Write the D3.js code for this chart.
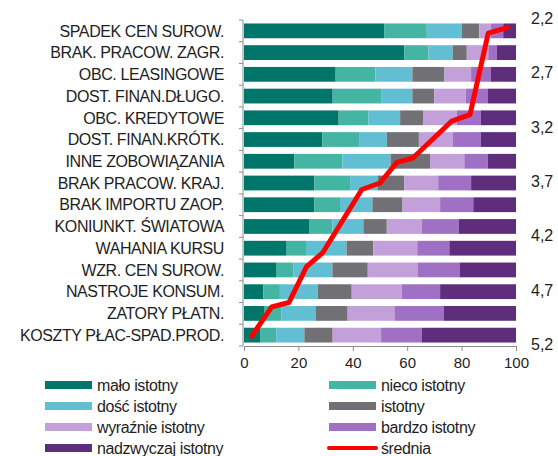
<!DOCTYPE html>
<html>
<head>
<meta charset="utf-8">
<title>Czynniki</title>
<script src="https://cdn.jsdelivr.net/npm/d3@7/dist/d3.min.js"></script>
<style>
    body { margin: 0; background: #fff; }
    svg text { font-family: Arial, "Liberation Sans", sans-serif; fill: #1e1e1e; }
</style>
</head>
<body>
<svg id="chart"></svg>
<script>
    const categories = ["SPADEK CEN SUROW.", "BRAK. PRACOW. ZAGR.", "OBC. LEASINGOWE", "DOST. FINAN.DŁUGO.",
        "OBC. KREDYTOWE", "DOST. FINAN.KRÓTK.", "INNE ZOBOWIĄZANIA", "BRAK PRACOW. KRAJ.",
        "BRAK IMPORTU ZAOP.", "KONIUNKT. ŚWIATOWA", "WAHANIA KURSU", "WZR. CEN SUROW.",
        "NASTROJE KONSUM.", "ZATORY PŁATN.", "KOSZTY PŁAC-SPAD.PROD."];

    const seriesNames = ["mało istotny", "nieco istotny", "dość istotny", "istotny",
        "wyraźnie istotny", "bardzo istotny", "nadzwyczaj istotny"];

    const malo       = [51.5, 58.9, 33.7, 32.6, 34.8, 28.8, 18.5, 25.9, 25.9, 23.9, 15.7, 12.0, 7.1, 7.6, 6.1];
    const nieco      = [15.7, 8.9, 14.6, 17.8, 10.9, 13.5, 17.7, 13.1, 9.4, 8.6, 7.1, 6.1, 6.1, 6.2, 5.9];
    const dosc       = [12.8, 8.9, 13.6, 11.5, 11.7, 10.2, 17.7, 10.1, 11.9, 11.4, 14.9, 14.4, 13.9, 12.5, 10.2];
    const istotny    = [6.5, 5.2, 11.8, 8.0, 8.4, 11.8, 14.5, 9.8, 11.1, 8.6, 9.8, 13.0, 12.5, 11.8, 10.4];
    const wyraznie   = [4.2, 7.9, 9.8, 11.6, 12.4, 12.4, 12.6, 12.5, 13.8, 12.8, 16.2, 18.3, 18.4, 17.2, 17.8];
    const bardzo     = [4.6, 3.1, 7.3, 8.1, 8.8, 10.3, 8.6, 12.1, 12.2, 13.7, 11.8, 15.6, 14.1, 18.2, 14.9];
    const nadzwyczaj = [4.7, 7.1, 9.2, 10.4, 13.0, 13.0, 10.4, 16.5, 15.7, 21.0, 24.5, 20.6, 27.9, 26.5, 34.7];

    // średnia: x on the 0-100 axis, y on the right axis (2,2 at top)
    const meanX = [96.8, 89.8, 83.1, 76.4, 62.1, 56.2, 50.0, 43.3, 29.0, 23.0, 16.5, 10.2, 2.8];
    const meanY = [2.27, 2.32, 3.07, 3.13, 3.47, 3.51, 3.70, 3.76, 4.34, 4.47, 4.80, 4.84, 5.11];

    const xTicks = [0, 20, 40, 60, 80, 100];
    const rightTicks = [2.2, 2.7, 3.2, 3.7, 4.2, 4.7, 5.2];

    const colors = ["#00766a", "#45b5a3", "#62bfd3", "#717075", "#c4a0da", "#a070c4", "#5e2d7c"];
    const lineColor = "#ff0000";

    const width = 558, height = 456;
    const plotLeft = 244, plotRight = 516, plotTop = 20, plotBottom = 346;

    const svg = d3.select("#chart").attr("width", width).attr("height", height);

    const x = d3.scaleLinear().domain([0, 100]).range([plotLeft, plotRight]);
    const y = d3.scaleBand().domain(categories).range([plotTop, plotBottom]).paddingInner(0.32).paddingOuter(0.16);
    const y2 = d3.scaleLinear().domain([2.2, 5.2]).range([plotTop, plotBottom]);

    const rows = categories.map(function (c, i) {
        const v = [malo[i], nieco[i], dosc[i], istotny[i], wyraznie[i], bardzo[i], nadzwyczaj[i]];
        const o = { cat: c };
        seriesNames.forEach(function (s, j) { o[s] = v[j]; });
        return o;
    });
    const stacked = d3.stack().keys(seriesNames)(rows);

    svg.append("g").selectAll("g")
        .data(stacked)
        .enter().append("g")
        .attr("fill", function (d, i) { return colors[i]; })
        .selectAll("rect")
        .data(function (d) { return d; })
        .enter().append("rect")
        .attr("x", function (d) { return x(d[0]); })
        .attr("width", function (d) { return x(d[1]) - x(d[0]); })
        .attr("y", function (d) { return y(d.data.cat); })
        .attr("height", y.bandwidth());

    // category axis, ticks between the categories
    const yAxis = svg.append("g").attr("transform", "translate(" + (plotLeft - 1) + ",0)");
    yAxis.append("line").attr("y1", plotTop).attr("y2", plotBottom).attr("stroke", "#8c8c8c");
    const bounds = categories.map(function (c) { return y(c) - y.step() * y.paddingInner() / 2; }).concat([plotBottom]);
    yAxis.selectAll("line.t").data(bounds).enter().append("line").attr("class", "t")
        .attr("x1", -4).attr("x2", 0)
        .attr("y1", function (d) { return d; }).attr("y2", function (d) { return d; })
        .attr("stroke", "#8c8c8c");
    yAxis.selectAll("text").data(categories).enter().append("text")
        .attr("x", -19)
        .attr("y", function (d) { return y(d) + y.bandwidth() / 2; })
        .attr("dy", "0.36em")
        .attr("text-anchor", "end")
        .attr("font-size", 16)
        .attr("letter-spacing", -0.4)
        .text(function (d) { return d; });

    // value axis
    const xAxis = svg.append("g").attr("transform", "translate(0," + plotBottom + ")")
        .call(d3.axisBottom(x).tickValues(xTicks).tickSize(5).tickPadding(6));
    xAxis.select(".domain").attr("stroke", "#8c8c8c");
    xAxis.selectAll(".tick line").attr("stroke", "#8c8c8c");
    xAxis.selectAll("text").attr("font-size", 15).style("font-family", "Arial, 'Liberation Sans', sans-serif").attr("fill", "#1e1e1e");

    // right axis labels only
    svg.append("g").selectAll("text").data(rightTicks).enter().append("text")
        .attr("x", 531)
        .attr("y", function (d) { return y2(d); })
        .attr("dy", "0.25em")
        .attr("font-size", 16)
        .text(function (d) { return d.toFixed(1).replace(".", ","); });

    // średnia line
    const pts = meanX.map(function (v, i) { return [v, meanY[i]]; });
    svg.append("path")
        .datum(pts)
        .attr("fill", "none")
        .attr("stroke", lineColor)
        .attr("stroke-width", 5)
        .attr("stroke-linejoin", "round")
        .attr("stroke-linecap", "round")
        .attr("d", d3.line().x(function (d) { return x(d[0]); }).y(function (d) { return y2(d[1]); }));

    // legend
    const legendItems = seriesNames.map(function (s, i) { return { name: s, color: colors[i], line: false }; })
        .concat([{ name: "średnia", color: lineColor, line: true }]);
    const lg = svg.append("g");
    legendItems.forEach(function (d, i) {
        const col = i % 2, row = Math.floor(i / 2);
        const gx = col === 0 ? 45 : 329;
        const gy = 385 + row * 21;
        if (d.line) {
            lg.append("line").attr("x1", gx).attr("x2", gx + 47).attr("y1", gy).attr("y2", gy)
                .attr("stroke", d.color).attr("stroke-width", 4).attr("stroke-linecap", "round");
        } else {
            lg.append("rect").attr("x", gx).attr("y", gy - 4).attr("width", 47).attr("height", 8).attr("fill", d.color);
        }
        lg.append("text").attr("x", gx + 52).attr("y", gy).attr("dy", "0.35em")
            .attr("font-size", 16).attr("letter-spacing", -0.4).text(d.name);
    });
</script>
</body>
</html>
